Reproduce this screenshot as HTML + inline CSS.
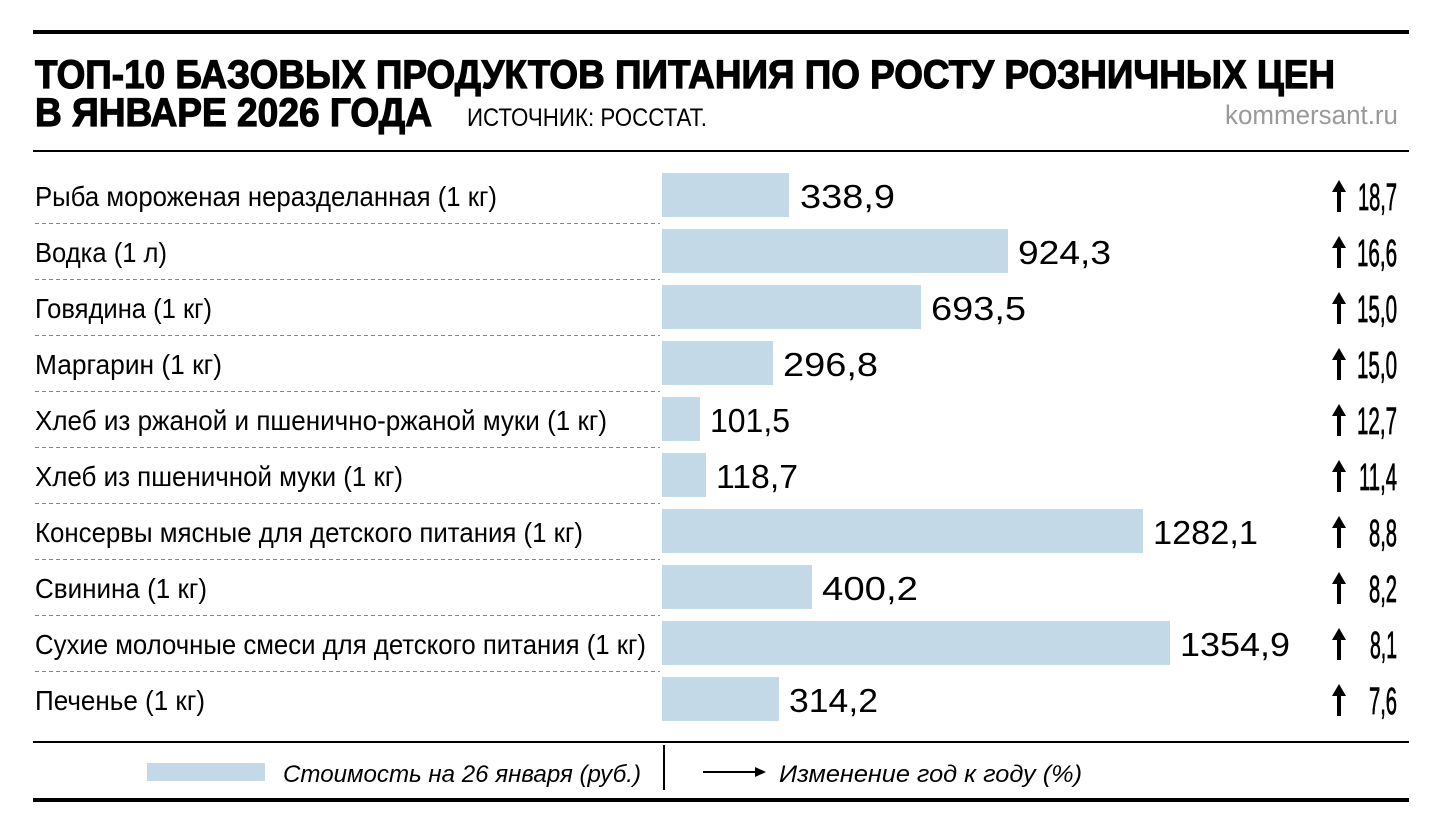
<!DOCTYPE html>
<html><head><meta charset="utf-8"><style>
html,body{margin:0;padding:0;background:#fff;}
svg{display:block;font-family:"Liberation Sans",sans-serif;}
</style></head><body>
<svg width="1440" height="835" viewBox="0 0 1440 835" xmlns="http://www.w3.org/2000/svg">
<rect x="33" y="30" width="1376" height="4" fill="#000"/>
<text x="35" y="88" font-size="40" font-weight="bold" stroke="#000" stroke-width="1.2" textLength="1300" lengthAdjust="spacingAndGlyphs">ТОП-10 БАЗОВЫХ ПРОДУКТОВ ПИТАНИЯ ПО РОСТУ РОЗНИЧНЫХ ЦЕН</text>
<text x="35" y="126" font-size="40" font-weight="bold" stroke="#000" stroke-width="1.2" textLength="397" lengthAdjust="spacingAndGlyphs">В ЯНВАРЕ 2026 ГОДА</text>
<text x="467" y="126" font-size="25" textLength="240" lengthAdjust="spacingAndGlyphs">ИСТОЧНИК: РОССТАТ.</text>
<text x="1398" y="124" font-size="27" fill="#999" text-anchor="end" textLength="173" lengthAdjust="spacingAndGlyphs">kommersant.ru</text>
<rect x="33" y="150" width="1376" height="2" fill="#000"/>
<g font-size="28">
<text x="35" y="206" textLength="462" lengthAdjust="spacingAndGlyphs">Рыба мороженая неразделанная (1 кг)</text>
<text x="35" y="262" textLength="132" lengthAdjust="spacingAndGlyphs">Водка (1 л)</text>
<text x="35" y="318" textLength="177" lengthAdjust="spacingAndGlyphs">Говядина (1 кг)</text>
<text x="35" y="374" textLength="187" lengthAdjust="spacingAndGlyphs">Маргарин (1 кг)</text>
<text x="35" y="430" textLength="572" lengthAdjust="spacingAndGlyphs">Хлеб из ржаной и пшенично-ржаной муки (1 кг)</text>
<text x="35" y="486" textLength="368" lengthAdjust="spacingAndGlyphs">Хлеб из пшеничной муки (1 кг)</text>
<text x="35" y="542" textLength="548" lengthAdjust="spacingAndGlyphs">Консервы мясные для детского питания (1 кг)</text>
<text x="35" y="598" textLength="172" lengthAdjust="spacingAndGlyphs">Свинина (1 кг)</text>
<text x="35" y="654" textLength="611" lengthAdjust="spacingAndGlyphs">Сухие молочные смеси для детского питания (1 кг)</text>
<text x="35" y="710" textLength="170" lengthAdjust="spacingAndGlyphs">Печенье (1 кг)</text>
</g>
<g stroke="#888" stroke-width="1" stroke-dasharray="4,3">
<line x1="35" y1="223.5" x2="660" y2="223.5"/><line x1="35" y1="279.5" x2="660" y2="279.5"/>
<line x1="35" y1="335.5" x2="660" y2="335.5"/><line x1="35" y1="391.5" x2="660" y2="391.5"/>
<line x1="35" y1="447.5" x2="660" y2="447.5"/><line x1="35" y1="503.5" x2="660" y2="503.5"/>
<line x1="35" y1="559.5" x2="660" y2="559.5"/><line x1="35" y1="615.5" x2="660" y2="615.5"/>
<line x1="35" y1="671.5" x2="660" y2="671.5"/>
</g>
<g fill="#c4d9e8">
<rect x="662" y="173" width="127" height="44"/>
<rect x="662" y="229" width="346" height="44"/>
<rect x="662" y="285" width="259" height="44"/>
<rect x="662" y="341" width="111" height="44"/>
<rect x="662" y="397" width="38" height="44"/>
<rect x="662" y="453" width="44" height="44"/>
<rect x="662" y="509" width="481" height="44"/>
<rect x="662" y="565" width="150" height="44"/>
<rect x="662" y="621" width="508" height="44"/>
<rect x="662" y="677" width="117" height="44"/>
</g>
<g font-size="33">
<text x="800" y="208" textLength="95" lengthAdjust="spacingAndGlyphs">338,9</text>
<text x="1018" y="264" textLength="93" lengthAdjust="spacingAndGlyphs">924,3</text>
<text x="931" y="320" textLength="95" lengthAdjust="spacingAndGlyphs">693,5</text>
<text x="783" y="376" textLength="95" lengthAdjust="spacingAndGlyphs">296,8</text>
<text x="710" y="432" textLength="80" lengthAdjust="spacingAndGlyphs">101,5</text>
<text x="716" y="488" textLength="82" lengthAdjust="spacingAndGlyphs">118,7</text>
<text x="1153" y="544" textLength="105" lengthAdjust="spacingAndGlyphs">1282,1</text>
<text x="822" y="600" textLength="96" lengthAdjust="spacingAndGlyphs">400,2</text>
<text x="1180" y="656" textLength="110" lengthAdjust="spacingAndGlyphs">1354,9</text>
<text x="789" y="712" textLength="89" lengthAdjust="spacingAndGlyphs">314,2</text>
</g>
<g font-size="38" text-anchor="end" stroke="#000" stroke-width="0.8">
<text x="1397" y="210" textLength="39" lengthAdjust="spacingAndGlyphs">18,7</text>
<text x="1397" y="266" textLength="40" lengthAdjust="spacingAndGlyphs">16,6</text>
<text x="1397" y="322" textLength="40" lengthAdjust="spacingAndGlyphs">15,0</text>
<text x="1397" y="378" textLength="40" lengthAdjust="spacingAndGlyphs">15,0</text>
<text x="1397" y="434" textLength="40" lengthAdjust="spacingAndGlyphs">12,7</text>
<text x="1397" y="490" textLength="38" lengthAdjust="spacingAndGlyphs">11,4</text>
<text x="1397" y="546" textLength="28" lengthAdjust="spacingAndGlyphs">8,8</text>
<text x="1397" y="602" textLength="28" lengthAdjust="spacingAndGlyphs">8,2</text>
<text x="1397" y="658" textLength="27" lengthAdjust="spacingAndGlyphs">8,1</text>
<text x="1397" y="714" textLength="28" lengthAdjust="spacingAndGlyphs">7,6</text>
</g>
<g fill="#000">
<path d="M1339 180 L1346 192 L1341 192 L1341 212 L1337 212 L1337 192 L1332 192 Z"/>
<path d="M1339 236 L1346 248 L1341 248 L1341 268 L1337 268 L1337 248 L1332 248 Z"/>
<path d="M1339 292 L1346 304 L1341 304 L1341 324 L1337 324 L1337 304 L1332 304 Z"/>
<path d="M1339 348 L1346 360 L1341 360 L1341 380 L1337 380 L1337 360 L1332 360 Z"/>
<path d="M1339 404 L1346 416 L1341 416 L1341 436 L1337 436 L1337 416 L1332 416 Z"/>
<path d="M1339 460 L1346 472 L1341 472 L1341 492 L1337 492 L1337 472 L1332 472 Z"/>
<path d="M1339 516 L1346 528 L1341 528 L1341 548 L1337 548 L1337 528 L1332 528 Z"/>
<path d="M1339 572 L1346 584 L1341 584 L1341 604 L1337 604 L1337 584 L1332 584 Z"/>
<path d="M1339 628 L1346 640 L1341 640 L1341 660 L1337 660 L1337 640 L1332 640 Z"/>
<path d="M1339 684 L1346 696 L1341 696 L1341 716 L1337 716 L1337 696 L1332 696 Z"/>
</g>
<rect x="33" y="741" width="1376" height="2" fill="#000"/>
<rect x="147" y="763" width="118" height="18" fill="#c4d9e8"/>
<text x="283" y="782" font-size="24" font-style="italic" textLength="358" lengthAdjust="spacingAndGlyphs">Стоимость на 26 января (руб.)</text>
<rect x="663" y="745" width="2" height="45" fill="#000"/>
<line x1="703" y1="772" x2="758" y2="772" stroke="#000" stroke-width="2"/>
<path d="M766 772 L755 767 L755 777 Z" fill="#000"/>
<text x="779" y="782" font-size="24" font-style="italic" textLength="303" lengthAdjust="spacingAndGlyphs">Изменение год к году (%)</text>
<rect x="33" y="798" width="1376" height="4" fill="#000"/>
</svg>
</body></html>
